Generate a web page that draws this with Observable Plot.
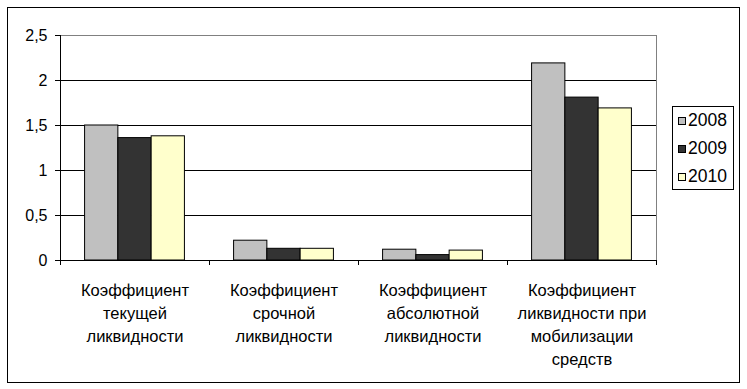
<!DOCTYPE html>
<html><head><meta charset="utf-8">
<script src="https://cdn.jsdelivr.net/npm/d3@7"></script>
<script src="https://cdn.jsdelivr.net/npm/@observablehq/plot@0.6"></script>
<style>
body{margin:0;background:#fff}
#wrap{position:relative;width:747px;height:389px;font-family:"Liberation Sans",Arial,sans-serif}
#border{position:absolute;left:7px;top:7px;width:733px;height:376px;border:1.5px solid #000;box-sizing:border-box;pointer-events:none}
#legend{position:absolute;left:672px;top:106px;width:62px;height:84px;border:1px solid #000;box-sizing:border-box;background:#fff}
#legend .row{display:flex;align-items:center;height:28px;padding-left:5px;font-size:17.5px;line-height:1}
#legend .sw{width:8px;height:8px;border:1px solid #000;box-sizing:border-box;margin-right:2px}
svg{position:absolute;left:0;top:0}
</style>
</head><body><div id="wrap"><div id="border"></div></div>
<script>
const categories = [
  "Коэффициент\nтекущей\nликвидности",
  "Коэффициент\nсрочной\nликвидности",
  "Коэффициент\nабсолютной\nликвидности",
  "Коэффициент\nликвидности при\nмобилизации\nсредств"
];
const years = ["2008", "2009", "2010"];
const values2008 = [1.50, 0.22, 0.12, 2.19];
const values2009 = [1.36, 0.13, 0.06, 1.81];
const values2010 = [1.38, 0.13, 0.11, 1.69];
const yTicks = [0, 0.5, 1, 1.5, 2, 2.5];
const colors = ["#c0c0c0", "#333333", "#ffffcc"];

const series = [values2008, values2009, values2010];
const data = categories.flatMap((c, i) => years.map((yr, j) => ({cat: c, i, j, year: yr, value: series[j][i]})));

const groupFrac = 0.67;
const barW = groupFrac / years.length;
const pad = (1 - groupFrac) / 2;
const fmt = d => String(d).replace(".", ",");
const yMax = yTicks[yTicks.length - 1];

const chart = Plot.plot({
  width: 747, height: 389,
  marginLeft: 60, marginRight: 91, marginTop: 35, marginBottom: 129,
  style: {fontFamily: "'Liberation Sans', Arial, sans-serif", fontSize: "16px", background: "transparent", color: "black", overflow: "visible"},
  x: {domain: [0, categories.length], label: null},
  y: {domain: [0, yMax], label: null},
  color: {domain: years, range: colors},
  marks: [
    Plot.ruleY(yTicks.filter(t => t > 0 && t < yMax), {stroke: "black", strokeWidth: 1}),
    Plot.ruleY([yMax], {stroke: "#808080"}),
    Plot.ruleX([categories.length], {stroke: "#808080"}),
    Plot.rectY(data, {
      x1: d => d.i + pad + d.j * barW,
      x2: d => d.i + pad + (d.j + 1) * barW,
      y1: 0, y2: "value",
      fill: "year", stroke: "black", strokeWidth: 1
    }),
    Plot.ruleX([0], {stroke: "black"}),
    Plot.ruleY([0], {stroke: "black"}),
    Plot.axisY(yTicks, {tickSize: 5, tickPadding: 8, tickFormat: fmt, fontSize: 16, label: null}),
    Plot.axisX(d3.range(categories.length + 1), {tickSize: 5, tickFormat: () => "", label: null}),
    Plot.text(categories, {x: (d, i) => i + 0.5, y: 0, text: d => d, lineAnchor: "top", dy: 19, lineHeight: 1.4, fontSize: 16.5, fill: "black"})
  ]
});
const wrap = document.getElementById("wrap");
wrap.insertBefore(chart, wrap.firstChild);

const legend = document.createElement("div");
legend.id = "legend";
years.forEach((yr, j) => {
  const row = document.createElement("div");
  row.className = "row";
  const sw = document.createElement("span");
  sw.className = "sw";
  sw.style.background = colors[j];
  const t = document.createElement("span");
  t.textContent = yr;
  row.appendChild(sw); row.appendChild(t);
  legend.appendChild(row);
});
wrap.appendChild(legend);
</script>
</body></html>
